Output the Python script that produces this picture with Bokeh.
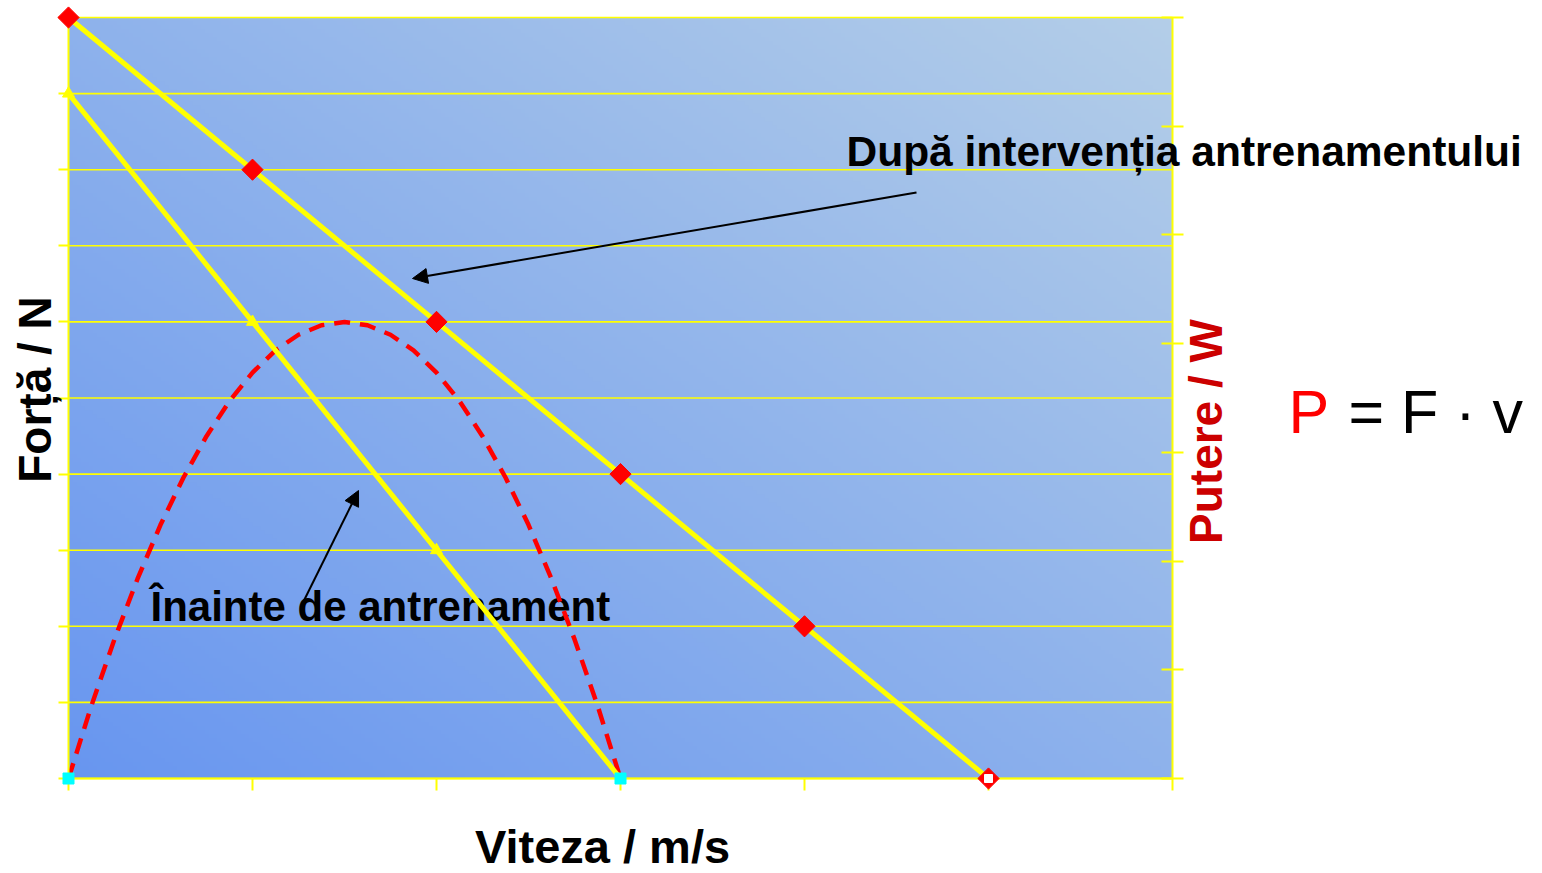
import math
import numpy as np
from bokeh.plotting import figure
from bokeh.models import Range1d, FixedTicker, LinearAxis, Label, Arrow, NormalHead
from bokeh.core.properties import value
from bokeh.embed import file_html
from bokeh.resources import INLINE

# ---- data -----------------------------------------------------------------
velocity_ticks = [0, 1, 2, 3, 4, 5, 6]
force_ticks = [0, 1, 2, 3, 4, 5, 6, 7, 8, 9, 10]

# force-velocity after the training intervention
after_v = [0, 1, 2, 3, 4, 5]
after_f = [10, 8, 6, 4, 2, 0]

# force-velocity before training
before_v = [0, 1, 2, 3]
before_f = [9, 6, 3, 0]

# power before training, P = F * v
power_v = [0, 0.125, 0.25, 0.375, 0.5, 0.625, 0.75, 0.875, 1.0, 1.125, 1.25,
           1.375, 1.5, 1.625, 1.75, 1.875, 2.0, 2.125, 2.25, 2.375, 2.5,
           2.625, 2.75, 2.875, 3.0]
power_w = [0, 1.08, 2.06, 2.95, 3.75, 4.45, 5.06, 5.58, 6.0, 6.33, 6.56,
           6.70, 6.75, 6.70, 6.56, 6.33, 6.0, 5.58, 5.06, 4.45, 3.75,
           2.95, 2.06, 1.08, 0]
power_axis_max = 11.25
power_ticks = [power_axis_max * i / 7 for i in range(8)]

# ---- geometry -------------------------------------------------------------
W, H = 1542, 873
LEFT_BORDER = 14                    # room for the outer half of the power-axis ticks
AREA_L, AREA_R, AREA_T, AREA_B = 68, 1172, 17, 778   # data area in screen px
px_per_v = (AREA_R - AREA_L) / (velocity_ticks[-1] - velocity_ticks[0])
px_per_f = (AREA_B - AREA_T) / (force_ticks[-1] - force_ticks[0])


def vx(px):
    """screen x -> velocity units"""
    return (px - AREA_L) / px_per_v


def fy(py):
    """screen y -> force units"""
    return (AREA_B - py) / px_per_f


p_scale = power_axis_max / force_ticks[-1]

YELLOW = "#ffff00"
FONT = "Liberation Sans"
BASE_FIX = 0.34                     # em shift that puts the alphabetic baseline on its anchor

p = figure(width=W, height=H, output_backend="svg", toolbar_location=None,
           x_axis_location=None, y_axis_location=None,
           x_range=Range1d(vx(LEFT_BORDER), vx(W)),
           y_range=Range1d(fy(H), fy(0)),
           min_border_left=LEFT_BORDER, min_border_right=0,
           min_border_top=0, min_border_bottom=0)
p.extra_y_ranges = {"power": Range1d(fy(H) * p_scale, fy(0) * p_scale)}
p.outline_line_color = None
p.background_fill_color = "white"
p.border_fill_color = "white"
p.grid.visible = False


def style_axis(ax, ticks, t_in, t_out):
    ax.ticker = FixedTicker(ticks=ticks)
    ax.bounds = (ticks[0], ticks[-1])
    ax.major_label_overrides = {t: "" for t in ticks}
    ax.major_label_text_font_size = "0px"
    ax.major_label_standoff = 0
    ax.major_tick_in = t_in
    ax.major_tick_out = t_out
    ax.minor_tick_line_color = None
    ax.axis_line_color = YELLOW
    ax.axis_line_width = 2
    ax.major_tick_line_color = YELLOW
    ax.major_tick_line_width = 2


# velocity axis along F = 0, ticks hanging below it
vel_axis = LinearAxis(fixed_location=force_ticks[0])
style_axis(vel_axis, velocity_ticks, 12, 0)
p.add_layout(vel_axis, "above")

# force axis along v = 0, ticks pointing left
force_axis = LinearAxis(fixed_location=velocity_ticks[0])
style_axis(force_axis, force_ticks, 10, 0)
p.add_layout(force_axis, "right")

# power axis along v = 6, ticks crossing the line
power_axis = LinearAxis(y_range_name="power", fixed_location=velocity_ticks[-1])
style_axis(power_axis, power_ticks, 11, 11)
p.add_layout(power_axis, "left")

# ---- diagonal gradient backdrop over the data area ------------------------
ny, nx = 190, 276
gx = np.linspace(0, 1, nx)[None, :]
gy = np.linspace(0, 1, ny)[:, None]
t = (gx + gy) / 2
lo = np.array([104, 150, 240], dtype=float)
hi = np.array([180, 206, 232], dtype=float)
rgb = lo[None, None, :] + (hi - lo)[None, None, :] * t[..., None]
img = np.empty((ny, nx), dtype=np.uint32)
view = img.view(dtype=np.uint8).reshape((ny, nx, 4))
view[..., 0] = rgb[..., 0].astype(np.uint8)
view[..., 1] = rgb[..., 1].astype(np.uint8)
view[..., 2] = rgb[..., 2].astype(np.uint8)
view[..., 3] = 255
p.image_rgba(image=[img], x=velocity_ticks[0], y=force_ticks[0],
             dw=velocity_ticks[-1] - velocity_ticks[0],
             dh=force_ticks[-1] - force_ticks[0])

# horizontal grid lines across the data area
p.segment(x0=[velocity_ticks[0]] * len(force_ticks),
          x1=[velocity_ticks[-1]] * len(force_ticks),
          y0=force_ticks, y1=force_ticks, line_color=YELLOW, line_width=1.6)

# caption that sits beneath the data lines
p.text(x=[vx(150)], y=[fy(620 - BASE_FIX * 42)], text=["Înainte de antrenament"],
       text_font=value(FONT), text_font_style="bold", text_font_size="42px",
       text_color="black", text_baseline="alphabetic", text_align="left")

# ---- series ----------------------------------------------------------------
p.line(power_v, power_w, y_range_name="power", line_color="#ff0000",
       line_width=4.5, line_dash="16 10")
p.line(before_v, before_f, line_color=YELLOW, line_width=5)
p.line(after_v, after_f, line_color=YELLOW, line_width=5)

# markers sit above the axis lines
p.scatter(before_v[:-1], before_f[:-1], marker="triangle", size=12,
          fill_color=YELLOW, line_color=YELLOW, level="overlay")
p.scatter([power_v[0], power_v[-1]], [power_w[0], power_w[-1]],
          y_range_name="power", marker="square", size=11,
          fill_color="#00ffff", line_color="#00ffff", level="overlay")
p.scatter(after_v, after_f, marker="square", angle=math.pi / 4, size=15,
          fill_color="#ff0000", line_color="#ff0000", level="overlay")
p.scatter([after_v[-1]], [after_f[-1]], marker="square", size=8,
          fill_color="white", line_color="white", level="overlay")

# ---- axis titles -----------------------------------------------------------
p.add_layout(Label(x=vx(602), y=fy(862 - BASE_FIX * 47), text="Viteza / m/s",
                   text_font=FONT, text_font_style="bold", text_font_size="47px",
                   text_color="black", text_align="center",
                   text_baseline="alphabetic"))
p.add_layout(Label(x=vx(50 - BASE_FIX * 46), y=fy(389), text="Forță / N",
                   angle=math.pi / 2, text_font=FONT, text_font_style="bold",
                   text_font_size="46px", text_color="black",
                   text_align="center", text_baseline="alphabetic"))
p.add_layout(Label(x=vx(1221 - BASE_FIX * 46), y=fy(431), text="Putere / W",
                   angle=math.pi / 2, text_font=FONT, text_font_style="bold",
                   text_font_size="46px", text_color="#cc0000",
                   text_align="center", text_baseline="alphabetic"))

# ---- annotations -----------------------------------------------------------
p.add_layout(Label(x=vx(846), y=fy(165 - BASE_FIX * 42),
                   text="După intervenția antrenamentului",
                   text_font=FONT, text_font_style="bold", text_font_size="42.5px",
                   text_color="black", text_baseline="alphabetic"))

p.add_layout(Arrow(end=NormalHead(size=15, fill_color="black", line_color="black"),
                   x_start=vx(916), y_start=fy(192), x_end=vx(412), y_end=fy(278),
                   line_color="black", line_width=2))
p.add_layout(Arrow(end=NormalHead(size=15, fill_color="black", line_color="black"),
                   x_start=vx(302), y_start=fy(603), x_end=vx(358), y_end=fy(490),
                   line_color="black", line_width=2))

p.add_layout(Label(x=vx(1288), y=fy(432 - BASE_FIX * 61), text="P", text_font=FONT,
                   text_font_size="61px", text_color="#ff0000",
                   text_baseline="alphabetic"))
p.add_layout(Label(x=vx(1348), y=fy(432 - BASE_FIX * 61), text="= F · v",
                   text_font=FONT, text_font_size="61px", text_color="black",
                   text_baseline="alphabetic"))

open("out.html", "w").write(file_html(p, INLINE))
